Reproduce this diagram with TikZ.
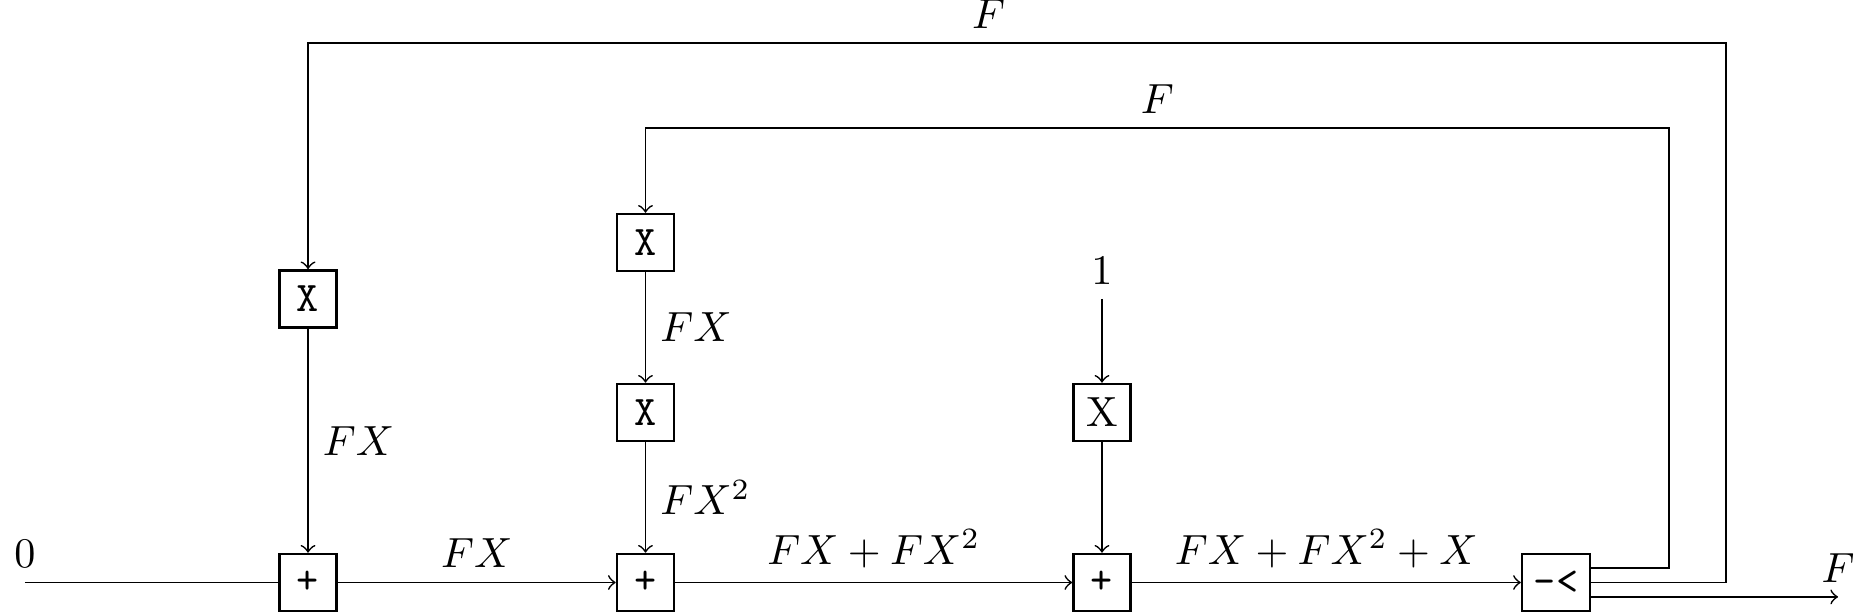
\documentclass[tikz,border=0pt]{standalone}
\usepackage{amsmath, amssymb}
\usepackage{tikz}

\begin{document}
\begin{tikzpicture}[opbox/.style={draw, semithick, minimum size=0.475cm, inner sep=2.8pt}]
  \useasboundingbox (0,-0.246) rectangle (15.6,4.854);
  \node[opbox] (add1) at (2.567,0) {\texttt{+}};
  \node[opbox] (add2) at (5.379,0) {\texttt{+}};
  \node[opbox] (add3) at (9.183,0) {\texttt{+}};
  \node[opbox] (split) at (12.967,0) {\texttt{-<}};
  \node[opbox] (mul1) at (2.567,2.363) {\texttt{X}};
  \node[opbox] (mul2a) at (5.379,2.833) {\texttt{X}};
  \node[opbox] (mul2b) at (5.379,1.417) {\texttt{X}};
  \node[opbox] (mul3) at (9.183,1.417) {X};
  \coordinate (start) at (0.208,0);
  \coordinate (c1) at (9.183,2.363);
  \coordinate (fb1) at (14.383,4.496);
  \coordinate (fb2) at (13.908,3.788);
  \coordinate (fout) at (15.317,-0.12);
  \node[above] (zero) at (start) {$0$};
  \node[above] (one) at (c1) {$1$};
  \draw (start) -- (add1);
  \draw[->] (add1) -- node[above] {$FX$} (add2);
  \draw[->] (add2) -- node[above] {$FX + FX^2$} (add3);
  \draw[->] (add3) -- node[above] {$FX + FX^2 + X$} (split);
  \draw[->] (mul1) -- node[right] {$FX$} (add1);
  \draw[->] (mul2a) -- node[right] {$FX$} (mul2b);
  \draw[->] (mul2b) -- node[right] {$FX^2$} (add2);
  \draw[->] (one) -- (mul3);
  \draw[->] (mul3) -- (add3);
  \draw[->] (split.east) -| (fb1) -| node[pos=0.26, above] {$F$} (mul1);
  \draw[->] ([yshift=0.12cm]split.east) -| (fb2) -| node[pos=0.25, above] {$F$} (mul2a);
  \draw[->] ([yshift=-0.12cm]split.east) -- (fout) node[above] {$F$};
\end{tikzpicture}
\end{document}
